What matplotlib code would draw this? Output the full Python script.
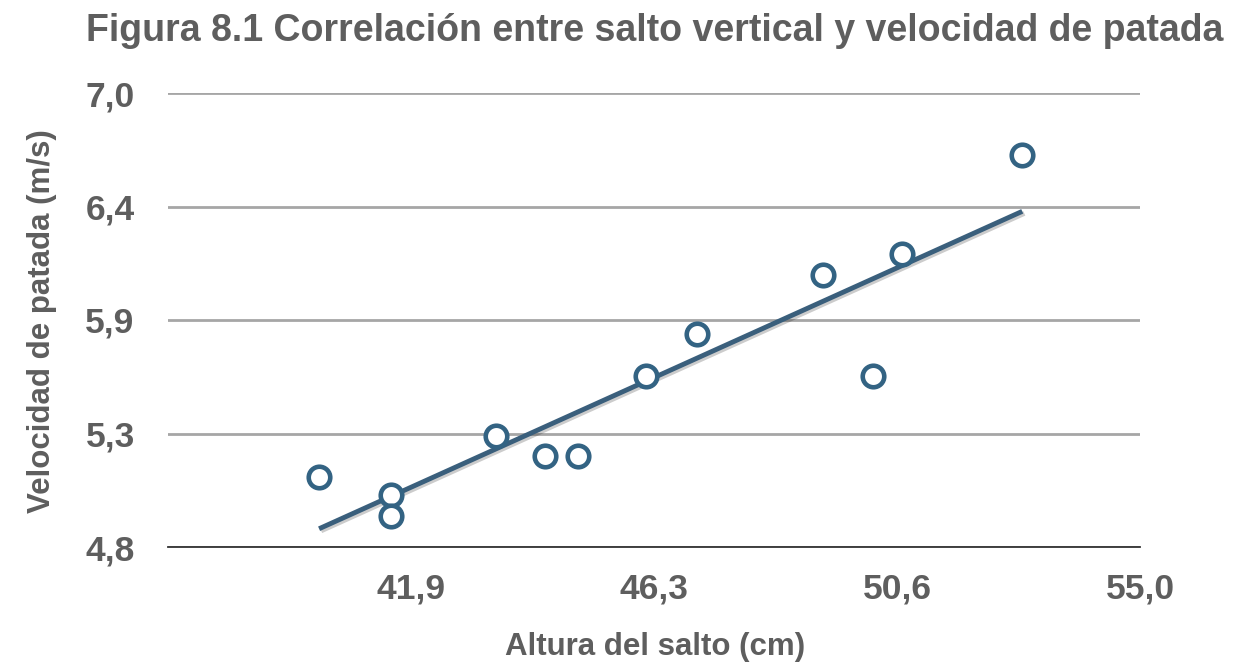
import numpy as np
import matplotlib.pyplot as plt
import matplotlib.patheffects as pe

plt.rcParams['font.family'] = ['Liberation Sans', 'DejaVu Sans']

altura = [40.22, 41.51, 41.51, 43.41, 44.29, 44.88, 46.11, 47.02, 49.29, 50.19, 50.71, 52.88]
velocidad = [5.14, 5.05, 4.95, 5.34, 5.24, 5.24, 5.63, 5.83, 6.12, 5.63, 6.22, 6.70]

x_ticks = [41.875, 46.25, 50.625, 55.0]
x_labels = ['41,9', '46,3', '50,6', '55,0']
y_ticks = [4.8, 5.35, 5.9, 6.45, 7.0]
y_labels = ['4,8', '5,3', '5,9', '6,4', '7,0']

gris = '#5e5e5e'
azul = '#336383'

fig = plt.figure(figsize=(12.49, 6.66), dpi=100)
ax = fig.add_axes([168 / 1249, 1 - 547 / 666, (1140 - 168) / 1249, (547 - 93) / 666])

# linea de tendencia
m, b = np.polyfit(altura, velocidad, 1)
xs = np.array([min(altura), max(altura)])
ax.plot(xs, m * xs + b, color='#3a5f7c', lw=3.5, solid_capstyle='butt', zorder=3,
        path_effects=[pe.SimpleLineShadow(offset=(1.5, -1.5), alpha=0.2), pe.Normal()])

ax.plot(altura, velocidad, 'o', ms=15.5, mfc='white', mec=azul, mew=3.3, zorder=4)

ax.set_xlim(37.5, 55.0)
ax.set_ylim(4.8, 7.0)
ax.set_xticks(x_ticks)
ax.set_xticklabels(x_labels)
ax.set_yticks(y_ticks)
ax.set_yticklabels(y_labels)
ax.tick_params(length=0, labelsize=25.5, colors=gris)
ax.tick_params(axis='x', pad=18)
ax.tick_params(axis='y', pad=24)
for t in ax.get_xticklabels() + ax.get_yticklabels():
    t.set_fontweight('bold')

ax.grid(axis='y', color='#a6a6a6', lw=2)
ax.set_axisbelow(True)
for s in ['top', 'right', 'left']:
    ax.spines[s].set_visible(False)
ax.spines['bottom'].set_color('#333333')
ax.spines['bottom'].set_linewidth(1.3)

fig.text(655 / 1249, 1 - 41 / 666, 'Figura 8.1 Correlación entre salto vertical y velocidad de patada',
         ha='center', va='baseline', fontsize=27, fontweight='bold', color=gris)
fig.text(655 / 1249, 1 - 655 / 666, 'Altura del salto (cm)', ha='center', va='baseline',
         fontsize=22.5, fontweight='bold', color=gris)
fig.text(42 / 1249, 1 - 321 / 666, 'Velocidad de patada (m/s)', ha='center', va='center',
         rotation=90, fontsize=22.5, fontweight='bold', color=gris)

fig.savefig('out.png', dpi=100)
